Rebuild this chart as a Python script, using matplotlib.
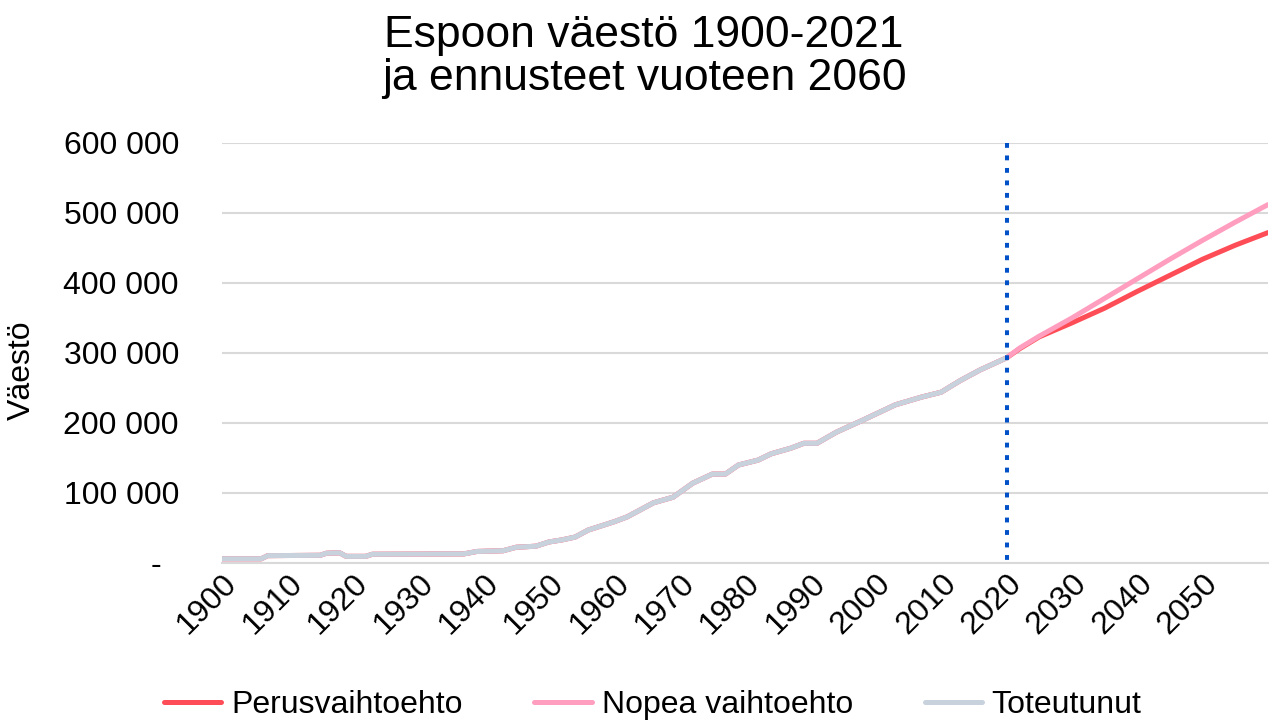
import matplotlib
matplotlib.use('Agg')
import matplotlib.pyplot as plt

plt.rcParams['font.family'] = ['Liberation Sans', 'DejaVu Sans']

# toteutunut vaesto (luettu kuvasta)
actual_years = [1900, 1906, 1907, 1915, 1916, 1918, 1919, 1922, 1923, 1937, 1939, 1943,
                1945, 1948, 1950, 1952, 1954, 1956, 1960, 1962, 1966, 1969, 1972, 1975,
                1977, 1979, 1982, 1984, 1987, 1989, 1991, 1994, 1998, 2003, 2007, 2010,
                2013, 2016, 2020]
actual = [6000, 6000, 10500, 11000, 14000, 14500, 9500, 9500, 12500, 13000, 16500, 17500,
          22500, 24000, 30000, 33000, 37000, 47000, 59000, 66000, 86000, 94000, 114000, 127000,
          127000, 140000, 147000, 156000, 164000, 171000, 171000, 187000, 204000, 226000, 237000, 244000,
          261000, 276000, 293000]

# ennusteet
fc_years = [2020, 2022, 2025, 2030, 2035, 2040, 2045, 2050, 2055, 2060]
perus = [293000, 306000, 323000, 343000, 364000, 388000, 411000, 434000, 454000, 472000]
nopea = [293000, 307000, 324000, 350000, 378000, 406000, 434000, 461000, 487000, 512000]

tick_years = [1900, 1910, 1920, 1930, 1940, 1950, 1960, 1970, 1980, 1990, 2000, 2010, 2020, 2030, 2040, 2050]
y_ticks = [0, 100000, 200000, 300000, 400000, 500000, 600000]
y_labels = ['-  ', '100 000', '200 000', '300 000', '400 000', '500 000', '600 000']
cut_year = 2020

fig = plt.figure(figsize=(12.7, 7.22), dpi=100)
ax = fig.add_axes([222 / 1270, 1 - 563 / 722, (1268 - 222) / 1270, (563 - 143) / 722])

all_years = actual_years + fc_years[1:]
ax.plot(all_years, actual + perus[1:], color='#FF4D57', lw=3.6, label='Perusvaihtoehto',
        solid_capstyle='round')
ax.plot(all_years, actual + nopea[1:], color='#FF9EBE', lw=3.6, label='Nopea vaihtoehto',
        solid_capstyle='round')
ax.plot(actual_years, actual, color='#C8D2DC', lw=3.6, label='Toteutunut',
        solid_capstyle='round')

ax.plot([cut_year, cut_year], [600000, 0], color='#0050C8', lw=2.9,
        linestyle=(0, (1.2, 1.9)), dash_capstyle='butt')

ax.set_xlim(1900, 2060)
ax.set_ylim(0, 600000)
ax.set_yticks(y_ticks)
ax.set_yticklabels(y_labels)
ax.set_xticks(tick_years)
ax.set_xticklabels([str(y) for y in tick_years], rotation=45, ha='right', va='top',
                   rotation_mode='anchor')
ax.tick_params(axis='y', length=0, pad=31, labelsize=23)
ax.tick_params(axis='x', length=0, pad=4, labelsize=23)

ax.grid(axis='y', color='#D9D9D9', lw=1.5)
ax.set_axisbelow(True)
for s in ['top', 'right', 'left']:
    ax.spines[s].set_visible(False)
ax.spines['bottom'].set_color('#D9D9D9')
ax.spines['bottom'].set_linewidth(1.5)

fig.text(22 / 1270, 1 - 370 / 722, 'Väestö', rotation=90, ha='center', va='center', fontsize=23)
fig.text(644 / 1270, 1 - 57 / 722, 'Espoon väestö 1900-2021\nja ennusteet vuoteen 2060',
         ha='center', va='center', fontsize=32, linespacing=1.08)

fig.legend(loc='center', bbox_to_anchor=(0.514, 1 - 705 / 722), ncol=3, frameon=False,
           fontsize=23, handlelength=1.8, handletextpad=0.3, columnspacing=2.25)

fig.savefig('out.png', dpi=100)
